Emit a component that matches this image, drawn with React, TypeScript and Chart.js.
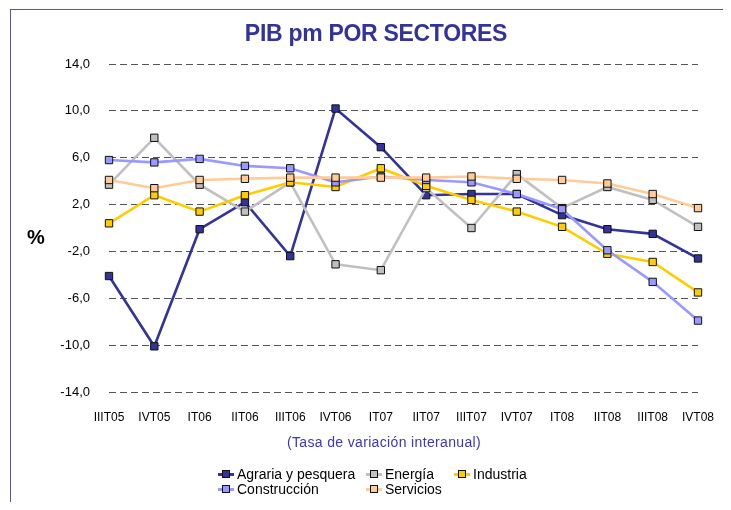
import React, { useEffect, useRef } from "react";
import { Chart, registerables } from "chart.js";

Chart.register(...registerables);

const categories = ["IIIT05", "IVT05", "IT06", "IIT06", "IIIT06", "IVT06", "IT07", "IIT07", "IIIT07", "IVT07", "IT08", "IIT08", "IIIT08", "IVT08"];
const agraria = [-4.1, -10.1, -0.1, 2.2, -2.4, 10.2, 6.9, 2.8, 2.9, 2.9, 1.1, -0.1, -0.5, -2.6];
const energia = [3.7, 7.7, 3.7, 1.4, 3.9, -3.1, -3.6, 3.4, 0.0, 4.6, 1.7, 3.5, 2.4, 0.1];
const industria = [0.4, 2.8, 1.4, 2.8, 3.9, 3.5, 5.1, 3.6, 2.4, 1.4, 0.1, -2.2, -2.9, -5.5];
const construccion = [5.8, 5.6, 5.9, 5.3, 5.1, 3.9, 4.4, 4.1, 3.9, 2.9, 1.6, -1.9, -4.6, -7.9];
const servicios = [4.1, 3.4, 4.1, 4.2, 4.3, 4.3, 4.3, 4.3, 4.4, 4.2, 4.1, 3.8, 2.9, 1.7];
const yTicks = [-14, -10, -6, -2, 2, 6, 10, 14];

const FONT = "'Liberation Sans', Arial, sans-serif";

const series = [
  { label: "Agraria y pesquera", data: agraria, color: "#333399" },
  { label: "Energía", data: energia, color: "#C0C0C0" },
  { label: "Industria", data: industria, color: "#FFCC00" },
  { label: "Construcción", data: construccion, color: "#9999FF" },
  { label: "Servicios", data: servicios, color: "#FFCC99" },
];

const legendPos = [
  { left: 210, top: 458 },
  { left: 358, top: 458 },
  { left: 446, top: 458 },
  { left: 210, top: 473 },
  { left: 358, top: 473 },
];

export default function App() {
  const ref = useRef<HTMLCanvasElement | null>(null);

  useEffect(() => {
    if (!ref.current) return;
    // Excel draws later series on top; Chart.js draws index 0 on top -> reverse
    const datasets = [...series].reverse().map((s) => ({
      label: s.label,
      data: s.data,
      borderColor: s.color,
      backgroundColor: s.color,
      borderWidth: 2.6,
      pointStyle: "rect" as const,
      pointRadius: 5.2,
      pointHoverRadius: 5.2,
      pointBackgroundColor: s.color,
      pointBorderColor: "#111",
      pointBorderWidth: 1,
      tension: 0,
      clip: false as any,
    }));
    const chart = new Chart(ref.current, {
      type: "line",
      data: { labels: categories, datasets },
      options: {
        animation: false,
        responsive: false,
        maintainAspectRatio: false,
        layout: { padding: { left: 0, right: 25, top: 56, bottom: 0 } },
        plugins: {
          legend: { display: false },
          title: { display: false },
          tooltip: { enabled: false },
        },
        scales: {
          x: {
            type: "category",
            offset: false,
            grid: { display: false, drawTicks: false },
            border: { display: false },
            ticks: {
              autoSkip: false,
              maxRotation: 0,
              minRotation: 0,
              padding: 18,
              color: "#000",
              font: { family: FONT, size: 12 },
            },
            afterFit: (scale: any) => {
              scale.height = 110;
              scale.paddingLeft = 0;
              scale.paddingRight = 0;
            },
          },
          y: {
            type: "linear",
            min: -14,
            max: 14,
            grid: { display: true, drawTicks: false, color: "#555", lineWidth: 1 },
            border: { display: false, dash: [7, 4] },
            afterBuildTicks: (scale: any) => {
              scale.ticks = yTicks.map((v) => ({ value: v }));
            },
            ticks: {
              padding: 19,
              color: "#000",
              font: { family: FONT, size: 13 },
              callback: (v: any) => Number(v).toFixed(1).replace(".", ","),
            },
            afterFit: (scale: any) => {
              scale.width = 101;
              scale.paddingTop = 0;
              scale.paddingBottom = 0;
            },
          },
        },
      },
    });
    return () => chart.destroy();
  }, []);

  return (
    <div style={{ position: "relative", width: 715, height: 494, fontFamily: FONT }}>
      <div
        style={{
          position: "absolute",
          left: 2,
          top: 1,
          width: 713,
          height: 493,
          borderLeft: "1px solid #5555AA",
          borderTop: "1px solid #5555AA",
          boxSizing: "border-box",
        }}
      />
      <canvas ref={ref} width={715} height={494} style={{ position: "absolute", left: 0, top: 0, width: 715, height: 494 }} />
      <div
        style={{
          position: "absolute",
          left: 368,
          top: 14,
          transform: "translateX(-50%)",
          whiteSpace: "nowrap",
          fontSize: 23,
          lineHeight: 1,
          fontWeight: "bold",
          color: "#333399",
          letterSpacing: -0.3,
        }}
      >
        PIB pm POR SECTORES
      </div>
      <div
        style={{
          position: "absolute",
          left: 19,
          top: 219,
          fontSize: 20,
          lineHeight: 1,
          fontWeight: "bold",
          color: "#000",
        }}
      >
        %
      </div>
      <div
        style={{
          position: "absolute",
          left: 376,
          top: 427,
          transform: "translateX(-50%)",
          whiteSpace: "nowrap",
          fontSize: 14,
          lineHeight: 1,
          color: "#3838B8",
          letterSpacing: 0.35,
        }}
      >
        (Tasa de variación interanual)
      </div>
      {series.map((s, i) => (
        <div
          key={s.label}
          style={{
            position: "absolute",
            left: legendPos[i].left,
            top: legendPos[i].top,
            height: 16,
            display: "flex",
            alignItems: "center",
            whiteSpace: "nowrap",
          }}
        >
          <div style={{ position: "relative", width: 16, height: 16, marginRight: 3 }}>
            <div style={{ position: "absolute", left: 0, top: 7, width: 16, height: 2.5, background: s.color }} />
            <div
              style={{
                position: "absolute",
                left: 4,
                top: 4,
                width: 8,
                height: 8,
                boxSizing: "border-box",
                background: s.color,
                border: "1px solid #111",
              }}
            />
          </div>
          <span style={{ fontSize: 14, lineHeight: "16px", color: "#000" }}>{s.label}</span>
        </div>
      ))}
    </div>
  );
}
